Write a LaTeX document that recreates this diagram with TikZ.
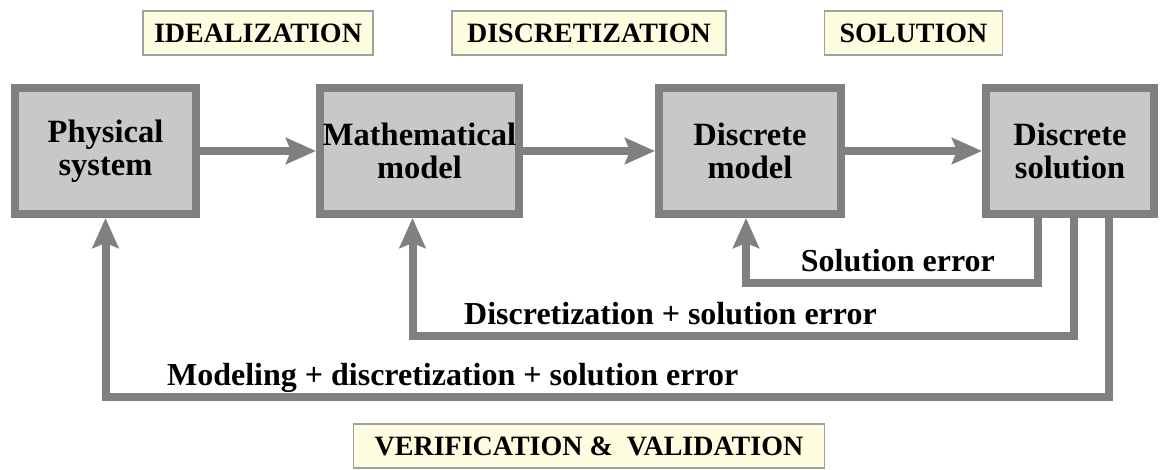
\documentclass[tikz,border=0pt]{standalone}
\usepackage{fontspec}
\setmainfont{Liberation Serif}
\usetikzlibrary{positioning,arrows.meta}
\definecolor{linegray}{RGB}{128,128,128}
\definecolor{boxgray}{RGB}{200,200,200}
\definecolor{stagefill}{RGB}{255,253,224}
\definecolor{stageline}{RGB}{160,160,160}

\begin{document}
\begin{tikzpicture}[
  x=1pt, y=1pt,
  sysbox/.style={rectangle, draw=linegray, fill=boxgray, line width=8pt, minimum height=126pt, inner sep=2pt, align=center, text=black, font=\fontsize{32.5}{33}\selectfont\bfseries},
  stage/.style={rectangle, draw=stageline, fill=stagefill, line width=1.2pt, minimum height=44pt, text=black, font=\fontsize{28}{30}\selectfont\bfseries},
  errlabel/.style={anchor=base, yshift=11pt, inner sep=0pt, text=black, font=\fontsize{32}{33}\selectfont\bfseries},
  arrow/.style={-{Stealth[length=30pt, width=26pt, inset=5pt]}, line width=8pt, draw=linegray}
]
  \useasboundingbox (0,0) rectangle (1164,470);

  % Models
  \node[sysbox, minimum width=181pt] (phys) at (105.5,319) {Physical\\system};
  \node[sysbox, minimum width=199pt, right=116pt of phys] (math) {Mathematical\\model};
  \node[sysbox, minimum width=182pt, right=132pt of math] (dmod) {Discrete\\model};
  \node[sysbox, minimum width=168pt, right=137pt of dmod] (dsol) {Discrete\\solution};

  % Forward steps
  \draw[arrow] (phys) -- node[stage, yshift=118pt, minimum width=230pt] (ideal) {IDEALIZATION} (math);
  \draw[arrow] (math) -- node[stage, yshift=118pt, minimum width=274pt] (discr) {DISCRETIZATION} (dmod);
  \draw[arrow] (dmod) -- node[stage, yshift=118pt, minimum width=178pt] (solv) {SOLUTION} (dsol);

  % Error loops
  \draw[arrow] ([xshift=-32pt]dsol.south) -- ++(0,-65)
    -| node[errlabel, pos=0.24] (solerr) {Solution error} ([xshift=-4pt]dmod.south);
  \draw[arrow] ([xshift=4pt]dsol.south) -- ++(0,-118)
    -| node[errlabel, pos=0.305] (discerr) {Discretization + solution error} ([xshift=-7pt]math.south);
  \draw[arrow] ([xshift=39pt]dsol.south) -- ++(0,-179)
    -| node[errlabel, pos=0.327] (moderr) {Modeling + discretization + solution error} (phys.south);

  % V&V
  \node[stage, minimum width=471pt] (vv) at (discr |- 0,24) {VERIFICATION \&~~VALIDATION};

\end{tikzpicture}
\end{document}
